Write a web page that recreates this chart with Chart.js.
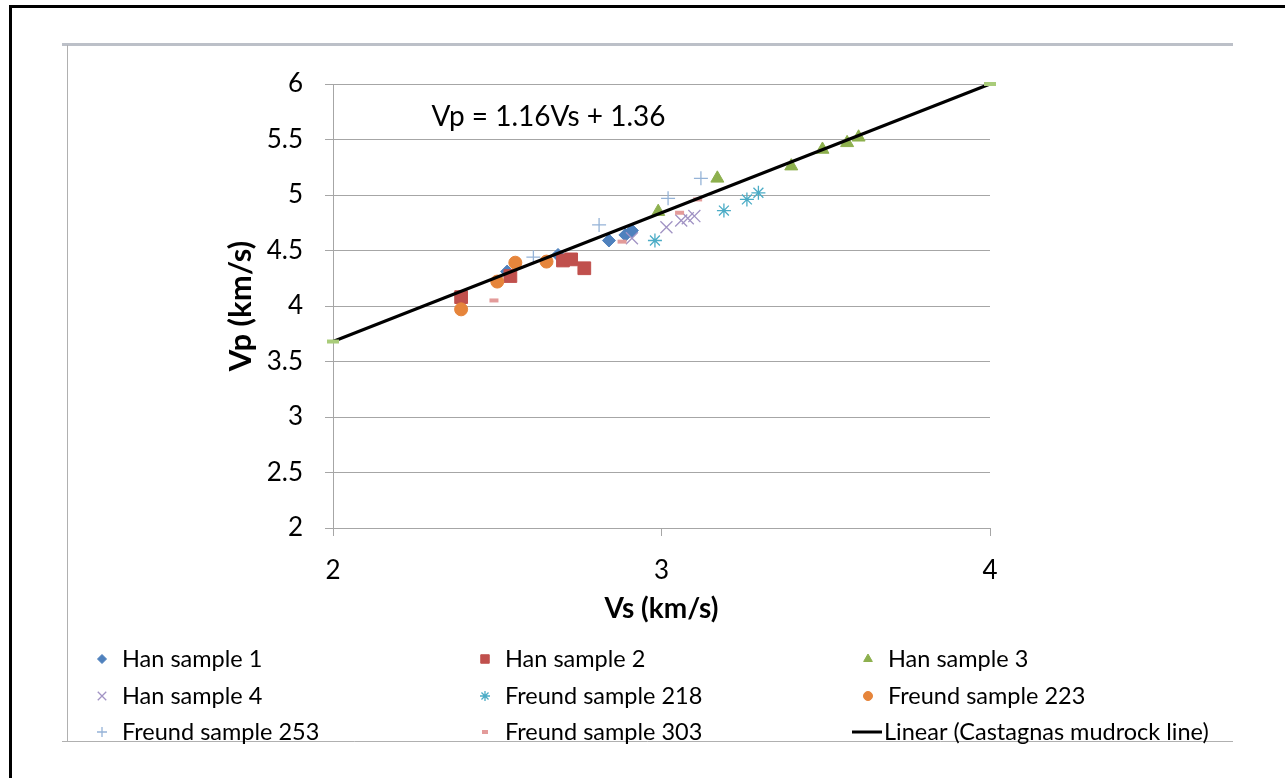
<!DOCTYPE html>
<html>
<head>
<meta charset="utf-8">
<script src="https://cdn.jsdelivr.net/npm/chart.js@4.4.0/dist/chart.umd.min.js"></script>
<style>
  body { margin: 0; background: #fff; }
  #grafico { position: absolute; left: 0; top: 0; }
</style>
</head>
<body>
<canvas id="grafico" width="1285" height="778"></canvas>
<script>
// Vs (km/s) / Vp (km/s)
const han1Vs = [2.53, 2.685, 2.84, 2.89, 2.91];
const han1Vp = [4.31, 4.46, 4.59, 4.64, 4.68];
const han2Vs = [2.39, 2.54, 2.70, 2.725, 2.765];
const han2Vp = [4.08, 4.27, 4.41, 4.42, 4.34];
const han3Vs = [2.99, 3.17, 3.395, 3.49, 3.565, 3.60];
const han3Vp = [4.85, 5.15, 5.26, 5.41, 5.47, 5.52];
const han4Vs = [2.91, 3.015, 3.06, 3.08, 3.10];
const han4Vp = [4.61, 4.71, 4.77, 4.79, 4.81];
const f218Vs = [2.98, 3.19, 3.26, 3.295];
const f218Vp = [4.59, 4.86, 4.96, 5.02];
const f223Vs = [2.39, 2.50, 2.555, 2.65];
const f223Vp = [3.97, 4.22, 4.39, 4.40];
const f253Vs = [2.61, 2.81, 3.02, 3.12];
const f253Vp = [4.44, 4.73, 4.97, 5.15];
const f303Vs = [2.49, 2.88, 3.055, 3.11];
const f303Vp = [4.05, 4.58, 4.84, 4.96];
const mudrockVs = [2, 4];
const mudrockVp = [3.68, 6.0];

const xTicks = [2, 3, 4];
const yTicks = [2, 2.5, 3, 3.5, 4, 4.5, 5, 5.5, 6];
const equationText = "Vp = 1.16Vs + 1.36";
const equationAt = [2.3, 5.7];

const fonte = "Lato, 'Liberation Sans', sans-serif";
const grafico = document.getElementById("grafico").getContext("2d");

function pontos(xs, ys) {
  return xs.map((x, i) => ({ x: x, y: ys[i] }));
}

function serie(label, xs, ys, style, color, radius, bw, legendRadius) {
  return {
    label: label,
    data: pontos(xs, ys),
    pointStyle: style,
    pointRadius: radius,
    pointBackgroundColor: color,
    pointBorderColor: color,
    pointBorderWidth: bw,
    showLine: false,
    legendRadius: legendRadius,
  };
}

const datasets = [
  serie("Han sample 1", han1Vs, han1Vp, "rectRot", "#4F81BD", 6.5, 1, 4.5),
  serie("Han sample 2", han2Vs, han2Vp, "rect", "#C0504D", 9, 1, 6),
  serie("Han sample 3", han3Vs, han3Vp, "triangle", "#8DB04E", 7.5, 1, 5),
  serie("Han sample 4", han4Vs, han4Vp, "crossRot", "#A193C4", 8.5, 1.3, 6),
  serie("Freund sample 218", f218Vs, f218Vp, "star", "#4BACC6", 7, 1.3, 5),
  serie("Freund sample 223", f223Vs, f223Vp, "circle", "#E6853B", 6.5, 1, 4.5),
  serie("Freund sample 253", f253Vs, f253Vp, "cross", "#95B3D7", 7, 1.3, 5),
  serie("Freund sample 303", f303Vs, f303Vp, "line", "#E39B9A", 4.5, 4, 3),
  {
    label: "Linear (Castagnas mudrock line)",
    data: pontos(mudrockVs, mudrockVp),
    showLine: true,
    clip: false,
    borderColor: "#000",
    borderWidth: 3,
    pointStyle: "line",
    pointRadius: 6,
    pointBorderWidth: 4,
    pointBorderColor: "#A9CC7A",
    pointBackgroundColor: "#A9CC7A",
    isTrend: true,
  },
];
// first series at the bottom, later ones on top (as in the original)
datasets.forEach((ds, i) => { ds.order = datasets.length - i; });

const moldura = {
  id: "moldura",
  beforeDraw(chart) {
    const ctx = chart.ctx;
    ctx.save();
    ctx.fillStyle = "#fff";
    ctx.fillRect(0, 0, chart.width, chart.height);
    // outer black border
    ctx.strokeStyle = "#000";
    ctx.lineWidth = 3;
    ctx.beginPath();
    ctx.moveTo(1285, 6.5);
    ctx.lineTo(10.5, 6.5);
    ctx.lineTo(10.5, 778);
    ctx.stroke();
    // grey chart frame
    ctx.strokeStyle = "#BCC0C8";
    ctx.lineWidth = 3;
    ctx.beginPath();
    ctx.moveTo(62, 44.5);
    ctx.lineTo(1233, 44.5);
    ctx.stroke();
    ctx.strokeStyle = "#B0B0B0";
    ctx.lineWidth = 1;
    ctx.beginPath();
    ctx.moveTo(67.5, 45);
    ctx.lineTo(67.5, 741);
    ctx.moveTo(62, 741.5);
    ctx.lineTo(1233, 741.5);
    ctx.stroke();
    ctx.restore();
  },
  afterDraw(chart) {
    const ctx = chart.ctx;
    const xs = chart.scales.x;
    const ys = chart.scales.y;
    ctx.save();
    // equation of the trend line
    ctx.fillStyle = "#000";
    ctx.font = "28px " + fonte;
    ctx.textBaseline = "middle";
    ctx.textAlign = "left";
    ctx.fillText(equationText, xs.getPixelForValue(equationAt[0]), ys.getPixelForValue(equationAt[1]));

    // legend, three columns
    const colX = [102, 485, 868];
    const rowY = [659, 696, 732];
    ctx.font = "23.5px " + fonte;
    chart.data.datasets.forEach((ds, i) => {
      const cx = colX[i % 3];
      const cy = rowY[Math.floor(i / 3)];
      if (ds.isTrend) {
        ctx.strokeStyle = "#000";
        ctx.lineWidth = 3;
        ctx.beginPath();
        ctx.moveTo(cx - 16, cy);
        ctx.lineTo(cx + 14, cy);
        ctx.stroke();
        ctx.fillStyle = "#000";
        ctx.fillText(ds.label, cx + 16, cy);
      } else {
        ctx.fillStyle = ds.pointBackgroundColor;
        ctx.strokeStyle = ds.pointBorderColor;
        ctx.lineWidth = ds.pointBorderWidth;
        Chart.helpers.drawPoint(ctx, {
          pointStyle: ds.pointStyle,
          rotation: 0,
          radius: ds.legendRadius,
          borderWidth: ds.pointBorderWidth,
        }, cx, cy);
        ctx.fillStyle = "#000";
        ctx.fillText(ds.label, cx + 20, cy);
      }
    });
    ctx.restore();
  },
};

new Chart(grafico, {
  type: "scatter",
  data: { datasets: datasets },
  plugins: [moldura],
  options: {
    responsive: false,
    animation: false,
    layout: { padding: { left: 222, top: 84, right: 295, bottom: 152 } },
    plugins: {
      legend: { display: false },
      tooltip: { enabled: false },
    },
    scales: {
      x: {
        type: "linear",
        min: 2,
        max: 4,
        afterFit: (s) => { s.height = 98; },
        afterBuildTicks: (s) => { s.ticks = xTicks.map((v) => ({ value: v })); },
        ticks: {
          color: "#000",
          font: { size: 26, family: fonte },
          padding: 19,
          callback: (v) => String(v),
        },
        grid: { drawOnChartArea: false, drawTicks: true, tickLength: 8, color: "#A6A6A6" },
        border: { color: "#A6A6A6" },
        title: {
          display: true,
          text: "Vs (km/s)",
          color: "#000",
          font: { size: 28, weight: "bold", family: fonte },
          padding: 0,
        },
      },
      y: {
        type: "linear",
        min: 2,
        max: 6,
        afterFit: (s) => { s.width = 111; },
        afterBuildTicks: (s) => { s.ticks = yTicks.map((v) => ({ value: v })); },
        ticks: {
          color: "#000",
          font: { size: 26, family: fonte },
          padding: 22,
          callback: (v) => String(v),
        },
        grid: { color: "#A6A6A6", drawTicks: true, tickLength: 8 },
        border: { color: "#A6A6A6" },
        title: {
          display: true,
          text: "Vp (km/s)",
          color: "#000",
          font: { size: 31, weight: "bold", family: fonte },
          padding: 0,
        },
      },
    },
  },
});
</script>
</body>
</html>
